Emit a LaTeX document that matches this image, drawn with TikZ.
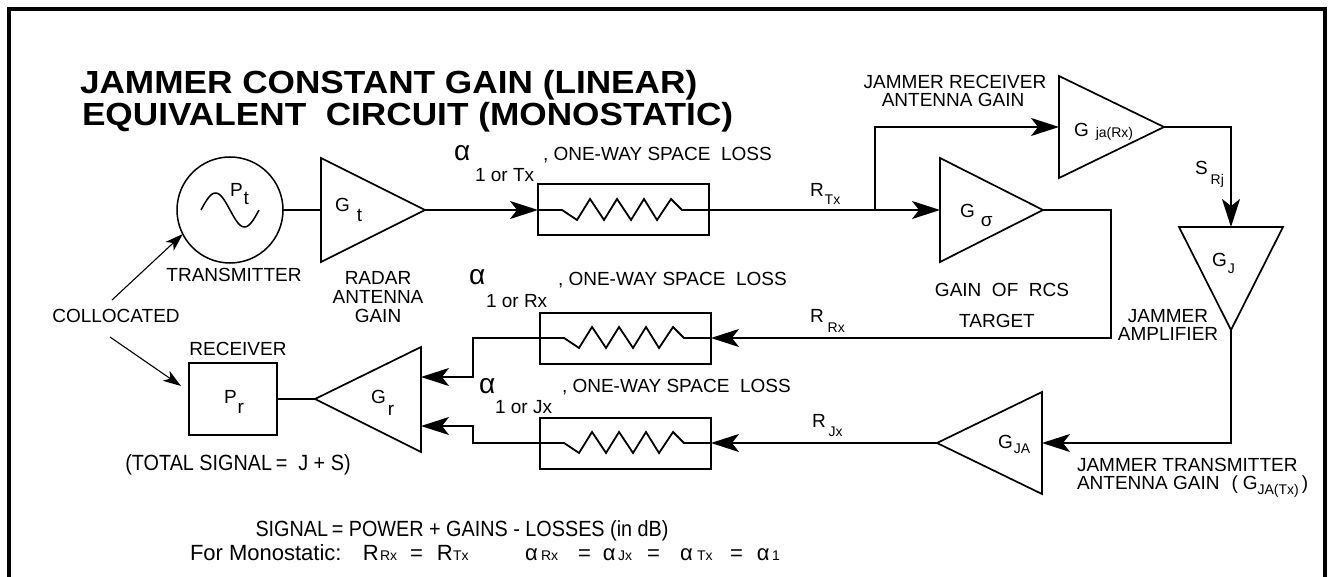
\documentclass[tikz,border=0pt]{standalone}
\usepackage{fontspec}
\setmainfont{Liberation Sans}
\newfontfamily\narrowfont{Liberation Sans}[FakeStretch=0.9]
\newfontfamily\widefont{Liberation Sans}[FakeStretch=1.1]
\usetikzlibrary{arrows.meta,calc}
\newcommand{\lbl}{\fontsize{19}{19}\selectfont}
\newcommand{\sml}{\fontsize{14}{14}\selectfont}
\newcommand{\ttl}{\widefont\bfseries\fontsize{32}{32}\selectfont}
\newcommand{\bx}[2]{\makebox[#1pt][l]{#2}}
\newcommand{\zz}[1]{\draw[line width=1.8pt] (#1.west) -- ++(24,0) -- ++(15,10) -- ++(13,-21) -- ++(14,21) -- ++(13,-21) -- ++(14,21) -- ++(13,-21) -- ++(13,21) -- ++(14,-21) -- ++(11,11) -- (#1.east);}
\begin{document}
\begin{tikzpicture}[x=1pt,y=-1pt,line width=2pt,line join=miter,
  every node/.style={inner sep=0pt,outer sep=0pt,font=\lbl},
  arr/.style={-{Stealth[length=28pt,width=18pt,inset=7pt]}},
  carr/.style={line width=1.1pt,-{Stealth[length=18pt,width=12pt,inset=5pt]}},
  tri/.style={line width=1.7pt},
  rbox/.style={draw,line width=2pt,minimum width=171pt,minimum height=51pt},
  lb/.style={anchor=base west},
  lc/.style={anchor=base}]
\useasboundingbox (0,0) rectangle (1330,577);
\draw[line width=4pt] (9,620) -- (9,9) -- (1325,9) -- (1325,620);

% title
\node[lb,font=\ttl] (title1) at (80,94) {JAMMER CONSTANT GAIN (LINEAR)};
\node[lb,font=\ttl] (title2) at (82,126) {EQUIVALENT\ \ CIRCUIT (MONOSTATIC)};

% transmitter
\node[circle,draw,line width=1.5pt,minimum size=106pt] (tx) at (230,210) {};
\draw[line width=1.5pt] plot[domain=0:1,samples=60,smooth] ({201+58*\x},{210-17*sin(360*\x)});
\node[lb] (ptl) at (230,197) {P\hspace{1pt}\raisebox{-8pt}{t}};
\node[lc] (txl) at (234,282) {TRANSMITTER};

% radar antenna gain
\coordinate (gt-in) at (321,210);
\coordinate (gt-out) at (425,210);
\draw[tri] (321,158) -- (gt-out) -- (321,262) -- cycle;
\node[lb] (gtl) at (335,212) {G\hspace{7pt}\raisebox{-10pt}{t}};
\node[lc] (rad1) at (378,285) {RADAR};
\node[lc] (rad2) at (378,303) {ANTENNA};
\node[lc] (rad3) at (378,322) {GAIN};
\draw (tx.east) -- (gt-in);

% collocated
\node[lc] (coll) at (116,323) {COLLOCATED};
\coordinate (c1s) at (112,300);
\coordinate (c2s) at (110,337);
\coordinate (c2e) at (181,386);
\draw[carr] (c1s) -- (tx.207);
\draw[carr] (c2s) -- (c2e);

% receiver
\node[lc] (recl) at (238,355) {RECEIVER};
\node[draw,line width=2pt,minimum width=88pt,minimum height=72pt] (pr) at (233,399) {};
\node[lb] (prl) at (224,403) {P\hspace{1pt}\raisebox{-10pt}{r}};
\node[lc,font=\narrowfont\fontsize{22}{22}\selectfont] (tot) at (238,470) {(TOTAL SIGNAL\,=\ \ J + S)};

% receive antenna gain
\coordinate (gr-out) at (315,399);
\coordinate (gr-in1) at (421,377);
\coordinate (gr-in2) at (421,426);
\draw[tri] (421,347) -- (421,452) -- (gr-out) -- cycle;
\node[lb] (grl) at (371,403) {G\hspace{2pt}\raisebox{-12pt}{r}};
\draw (gr-out) -- (pr.east);

% resistors
\node[rbox] (r1) at (623.5,210) {};
\node[rbox] (r2) at (625.5,338) {};
\node[rbox] (r3) at (625.5,443) {};
\zz{r1}\zz{r2}\zz{r3}

% alpha labels
\node[lb,font=\fontsize{28}{28}\selectfont] (a1) at (454,161) {α};
\node[lb] (a1s) at (475,182) {1 or Tx};
\node[lb] (a1t) at (543,161) {, ONE-WAY SPACE\ \ LOSS};
\node[lb,font=\fontsize{28}{28}\selectfont] (a2) at (469,285) {α};
\node[lb] (a2s) at (486,307) {1 or Rx};
\node[lb] (a2t) at (558,286) {, ONE-WAY SPACE\ \ LOSS};
\node[lb,font=\fontsize{28}{28}\selectfont] (a3) at (479,393) {α};
\node[lb] (a3s) at (495,413) {1 or Jx};
\node[lb] (a3t) at (562,392) {, ONE-WAY SPACE\ \ LOSS};

% range labels
\node[lb] (rtx) at (810,197) {R\hspace{1pt}\raisebox{-8pt}{\sml Tx}};
\node[lb] (rrx) at (810,322) {R\hspace{4pt}\raisebox{-10pt}{\sml Rx}};
\node[lb] (rjx) at (812,427) {R\hspace{3pt}\raisebox{-9pt}{\sml Jx}};

% target
\coordinate (jn) at (875,210);
\coordinate (gs-in) at (940,210);
\coordinate (gs-out) at (1043,210);
\draw[tri] (940,158) -- (gs-out) -- (940,262) -- cycle;
\node[lb] (gsl) at (960,218) {G\hspace{6pt}\raisebox{-9pt}{σ}};
\node[lc] (rcs) at (1002,297) {GAIN\ \ OF\ \ RCS};
\node[lc] (tgt) at (997,327) {TARGET};

% jammer receiver antenna
\coordinate (gja-in) at (1059,127);
\coordinate (gja-out) at (1164,127);
\draw[tri] (1059,76) -- (gja-out) -- (1059,178) -- cycle;
\node[lb] (gjal) at (1074,137) {G\hspace{7pt}\raisebox{-1pt}{\sml ja(Rx)}};
\node[lc] (jr1) at (955,89) {JAMMER RECEIVER};
\node[lc] (jr2) at (953,107) {ANTENNA GAIN};

% jammer amplifier
\coordinate (gj-in) at (1231,227);
\coordinate (gj-out) at (1231,330);
\draw[tri] (1179,227) -- (1283,227) -- (gj-out) -- cycle;
\node[lb] (gjl) at (1212,267) {G\hspace{1pt}\raisebox{-6pt}{\sml J}};
\node[lb] (srj) at (1195,175) {S\hspace{3pt}\raisebox{-10pt}{\sml Rj}};
\node[lc] (ja1) at (1168,322) {JAMMER};
\node[lc] (ja2) at (1168,340) {AMPLIFIER};

% jammer transmit antenna
\coordinate (gJA-in) at (1042,443);
\coordinate (gJA-out) at (937,443);
\draw[tri] (1042,392) -- (1042,494) -- (gJA-out) -- cycle;
\node[lb] (gJAl) at (998,448) {G\hspace{1pt}\raisebox{-5pt}{\sml JA}};
\node[lb] (jt1) at (1077,471) {JAMMER TRANSMITTER};
\node[lb] (jt2) at (1077,489) {ANTENNA GAIN\hspace{12pt}(\hspace{5pt}G\raisebox{-5pt}{\sml JA(Tx)}\hspace{3pt})};

% connectors
\coordinate (b1) at (1111,338);
\coordinate (b2) at (473,338);
\coordinate (b3) at (473,443);
\draw[arr] (gt-out) -- (r1.west);
\draw (r1.east) -- (jn);
\draw[arr] (jn) -- (gs-in);
\draw[arr] (jn) |- (gja-in);
\draw[arr] (gja-out) -| (gj-in);
\draw[arr] (gj-out) |- (gJA-in);
\draw[arr] (gJA-out) -- (r3.east);
\draw[arr] (gs-out) -| (b1) -- (r2.east);
\draw[arr] (r2.west) -- (b2) |- (gr-in1);
\draw[arr] (r3.west) -- (b3) |- (gr-in2);

% bottom text
\node[lc,font=\narrowfont\fontsize{22}{22}\selectfont] (sig) at (462,536) {SIGNAL\,=\ POWER + GAINS - LOSSES (in dB)};
\node[lb,font=\fontsize{22}{22}\selectfont] (mono) at (190,560) {\bx{173}{For Monostatic:}\bx{17}{R}\bx{30}{\sml Rx}\bx{27}{=}\bx{16}{R}\bx{72}{\sml Tx}\bx{16}{α}\bx{37}{\sml Rx}\bx{25}{=}\bx{15}{α}\bx{29}{\sml Jx}\bx{33}{=}\bx{17}{α}\bx{33}{\sml Tx}\bx{27}{=}\bx{15}{α}{\sml 1}};
\end{tikzpicture}
\end{document}
